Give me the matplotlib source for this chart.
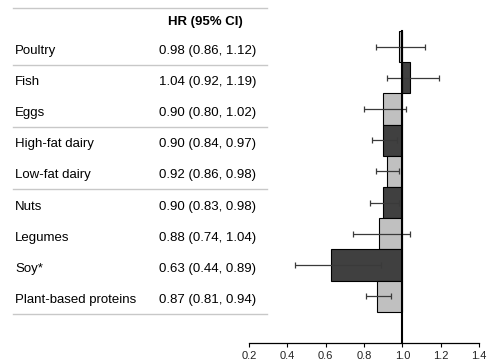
import matplotlib.pyplot as plt
import matplotlib.transforms as mtransforms

foods = ['Poultry', 'Fish', 'Eggs', 'High-fat dairy', 'Low-fat dairy',
         'Nuts', 'Legumes', 'Soy*', 'Plant-based proteins']
hr = [0.98, 1.04, 0.90, 0.90, 0.92, 0.90, 0.88, 0.63, 0.87]
lo = [0.86, 0.92, 0.80, 0.84, 0.86, 0.83, 0.74, 0.44, 0.81]
hi = [1.12, 1.19, 1.02, 0.97, 0.98, 0.98, 1.04, 0.89, 0.94]
xticks = [0.2, 0.4, 0.6, 0.8, 1.0, 1.2, 1.4]

plt.rcParams['font.family'] = ['Liberation Sans', 'DejaVu Sans']

fig = plt.figure(figsize=(4.87, 3.64), dpi=100)
W, H = 487, 364
ax = fig.add_axes([249 / W, 21 / H, 230 / W, 312 / H])

n = len(foods)
rows = list(range(n))
colors = ['#c0c0c0' if i % 2 == 0 else '#404040' for i in rows]

for i in rows:
    ax.barh(i, hr[i] - 1.0, left=1.0, height=1.0, color=colors[i],
            edgecolor='black', linewidth=0.8, zorder=2)
    ax.errorbar(hr[i], i, xerr=[[hr[i] - lo[i]], [hi[i] - hr[i]]], fmt='none',
                ecolor='#3a3a3a', elinewidth=0.9, capsize=2.5, capthick=0.9, zorder=3)

ax.plot([1.0, 1.0], [-0.5, n + 0.5], color='black', lw=1.5, zorder=4, clip_on=False)

ax.set_xlim(0.2, 1.4)
ax.set_ylim(n + 0.5, -0.5)
ax.set_xticks(xticks)
ax.set_xticklabels(['%.1f' % t for t in xticks], fontsize=8, color='#222222')
ax.set_yticks([])
for s in ['top', 'right', 'left']:
    ax.spines[s].set_visible(False)
ax.spines['bottom'].set_linewidth(0.9)
ax.tick_params(axis='x', direction='out', length=3, width=0.8, pad=3)

# table on the left
tr = mtransforms.blended_transform_factory(fig.transFigure, ax.transData)
off = 0.13
x_lab = 15 / W
x_val = 256 / W
line_x = [13 / W, 267 / W]
ax.text(205 / W, -0.78, 'HR (95% CI)', transform=tr, ha='center', va='center',
        fontsize=9.5, fontweight='bold', clip_on=False)
ax.plot(line_x, [-1.23, -1.23], transform=tr, color='#c8c8c8', lw=1, clip_on=False)
for i in rows:
    ax.text(x_lab, i + off, foods[i], transform=tr, ha='left', va='center',
            fontsize=9.5, clip_on=False)
    ax.text(x_val, i + off, '%.2f (%.2f, %.2f)' % (hr[i], lo[i], hi[i]), transform=tr,
            ha='right', va='center', fontsize=9.5, clip_on=False)
for b in [0, 2, 4, 8]:
    ax.plot(line_x, [b + 0.58, b + 0.58], transform=tr, color='#c8c8c8', lw=1,
            clip_on=False)

plt.savefig('out.png', dpi=100)
